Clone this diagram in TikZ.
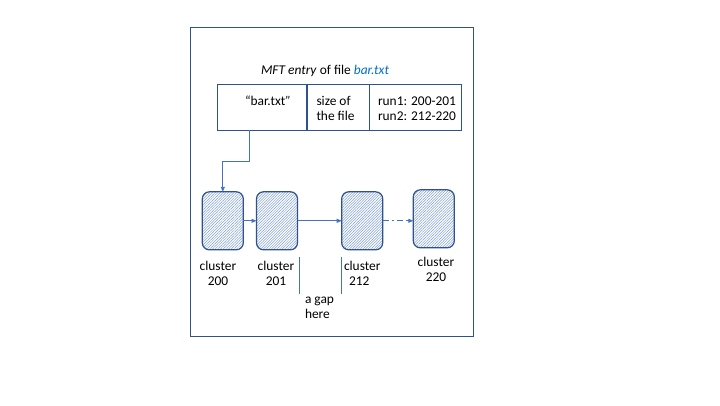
\documentclass[tikz,border=0pt]{standalone}
\usepackage{fontspec}
\setmainfont{Carlito}
\usetikzlibrary{patterns.meta,arrows.meta}
\definecolor{dkblue}{HTML}{2F528F}
\definecolor{mdblue}{HTML}{4472C4}
\definecolor{txtblue}{HTML}{0070C0}
\begin{document}
\begin{tikzpicture}[x=1pt,y=-1pt,
  every node/.style={inner sep=0pt,outer sep=0pt},
  lbl/.style={font=\fontsize{13.4}{15}\selectfont,text=black},
  cell/.style={draw=dkblue,line width=1pt,minimum height=46pt},
  clusterbox/.style={draw=dkblue,line width=1.2pt,rounded corners=7pt,minimum width=41pt,minimum height=58pt,
    pattern={Lines[angle=45,distance=1.9pt,line width=0.5pt]},pattern color=mdblue!70},
  conn/.style={draw=mdblue,line width=0.9pt,-{Triangle[length=5pt,width=4pt]}},
  gapline/.style={draw=mdblue,line width=0.9pt}]
\useasboundingbox (0,0) rectangle (720,405);
% outer frame
\node[draw=dkblue,line width=1pt,minimum width=282.6pt,minimum height=308.7pt] (frame) at (332,181.65) {};
% title
\node[lbl,anchor=base west] (title) at (261,74) {\textit{MFT entry} of file \textcolor{txtblue}{\textit{bar.txt}}};
% table cells
\node[cell,minimum width=90pt] (c1) at (262,107) {};
\node[cell,minimum width=62.6pt] (c2) at (338,107) {};
\node[cell,minimum width=92.4pt] (c3) at (415.2,107) {};
\node[lbl,anchor=base] (t1) at (268,105.7) {“bar.txt\textit{”}};
\node[lbl,anchor=base west,align=left] (t2) at (316.5,120.7) {size of\\the file};
\node[lbl,anchor=base west,align=left] (t3) at (378,120.7) {run1: 200-201\\run2: 212-220};
% clusters
\node[clusterbox] (k200) at (222.8,220.8) {};
\node[clusterbox] (k201) at (277,220.8) {};
\node[clusterbox] (k212) at (362.2,220.8) {};
\node[clusterbox] (k220) at (433.8,218.8) {};
% connector from entry to first cluster
\coordinate (bend) at (249.3,161);
\draw[conn] (c1.south -| bend) -- (bend) -| (k200.north);
\draw[conn] (k200.east) -- (k201.west);
\draw[conn] (k201.east) -- (k212.west);
\draw[conn,dash pattern=on 6pt off 3pt on 2.5pt off 3pt] (k212.east) -- (k212.east -| k220.west);
% labels
\node[lbl,anchor=base,align=center] (l200) at (218,285.7) {cluster\\200};
\node[lbl,anchor=base,align=center] (l201) at (276,285.7) {cluster\\201};
\node[lbl,anchor=base west,align=left] (l212) at (344,285.7) {cluster\\\hspace*{5pt}212};
\node[lbl,anchor=base,align=center] (l220) at (436,281.7) {cluster\\220};
\node[lbl,anchor=base west,align=left] (gap) at (305,318.3) {a gap\\here};
% gap markers
\coordinate (g1a) at (299.3,256.5);
\coordinate (g1b) at (299.3,294.3);
\coordinate (g2a) at (341.7,256.5);
\coordinate (g2b) at (341.7,294.3);
\draw[gapline] (g1a) -- (g1b);
\draw[gapline] (g2a) -- (g2b);
\end{tikzpicture}
\end{document}
